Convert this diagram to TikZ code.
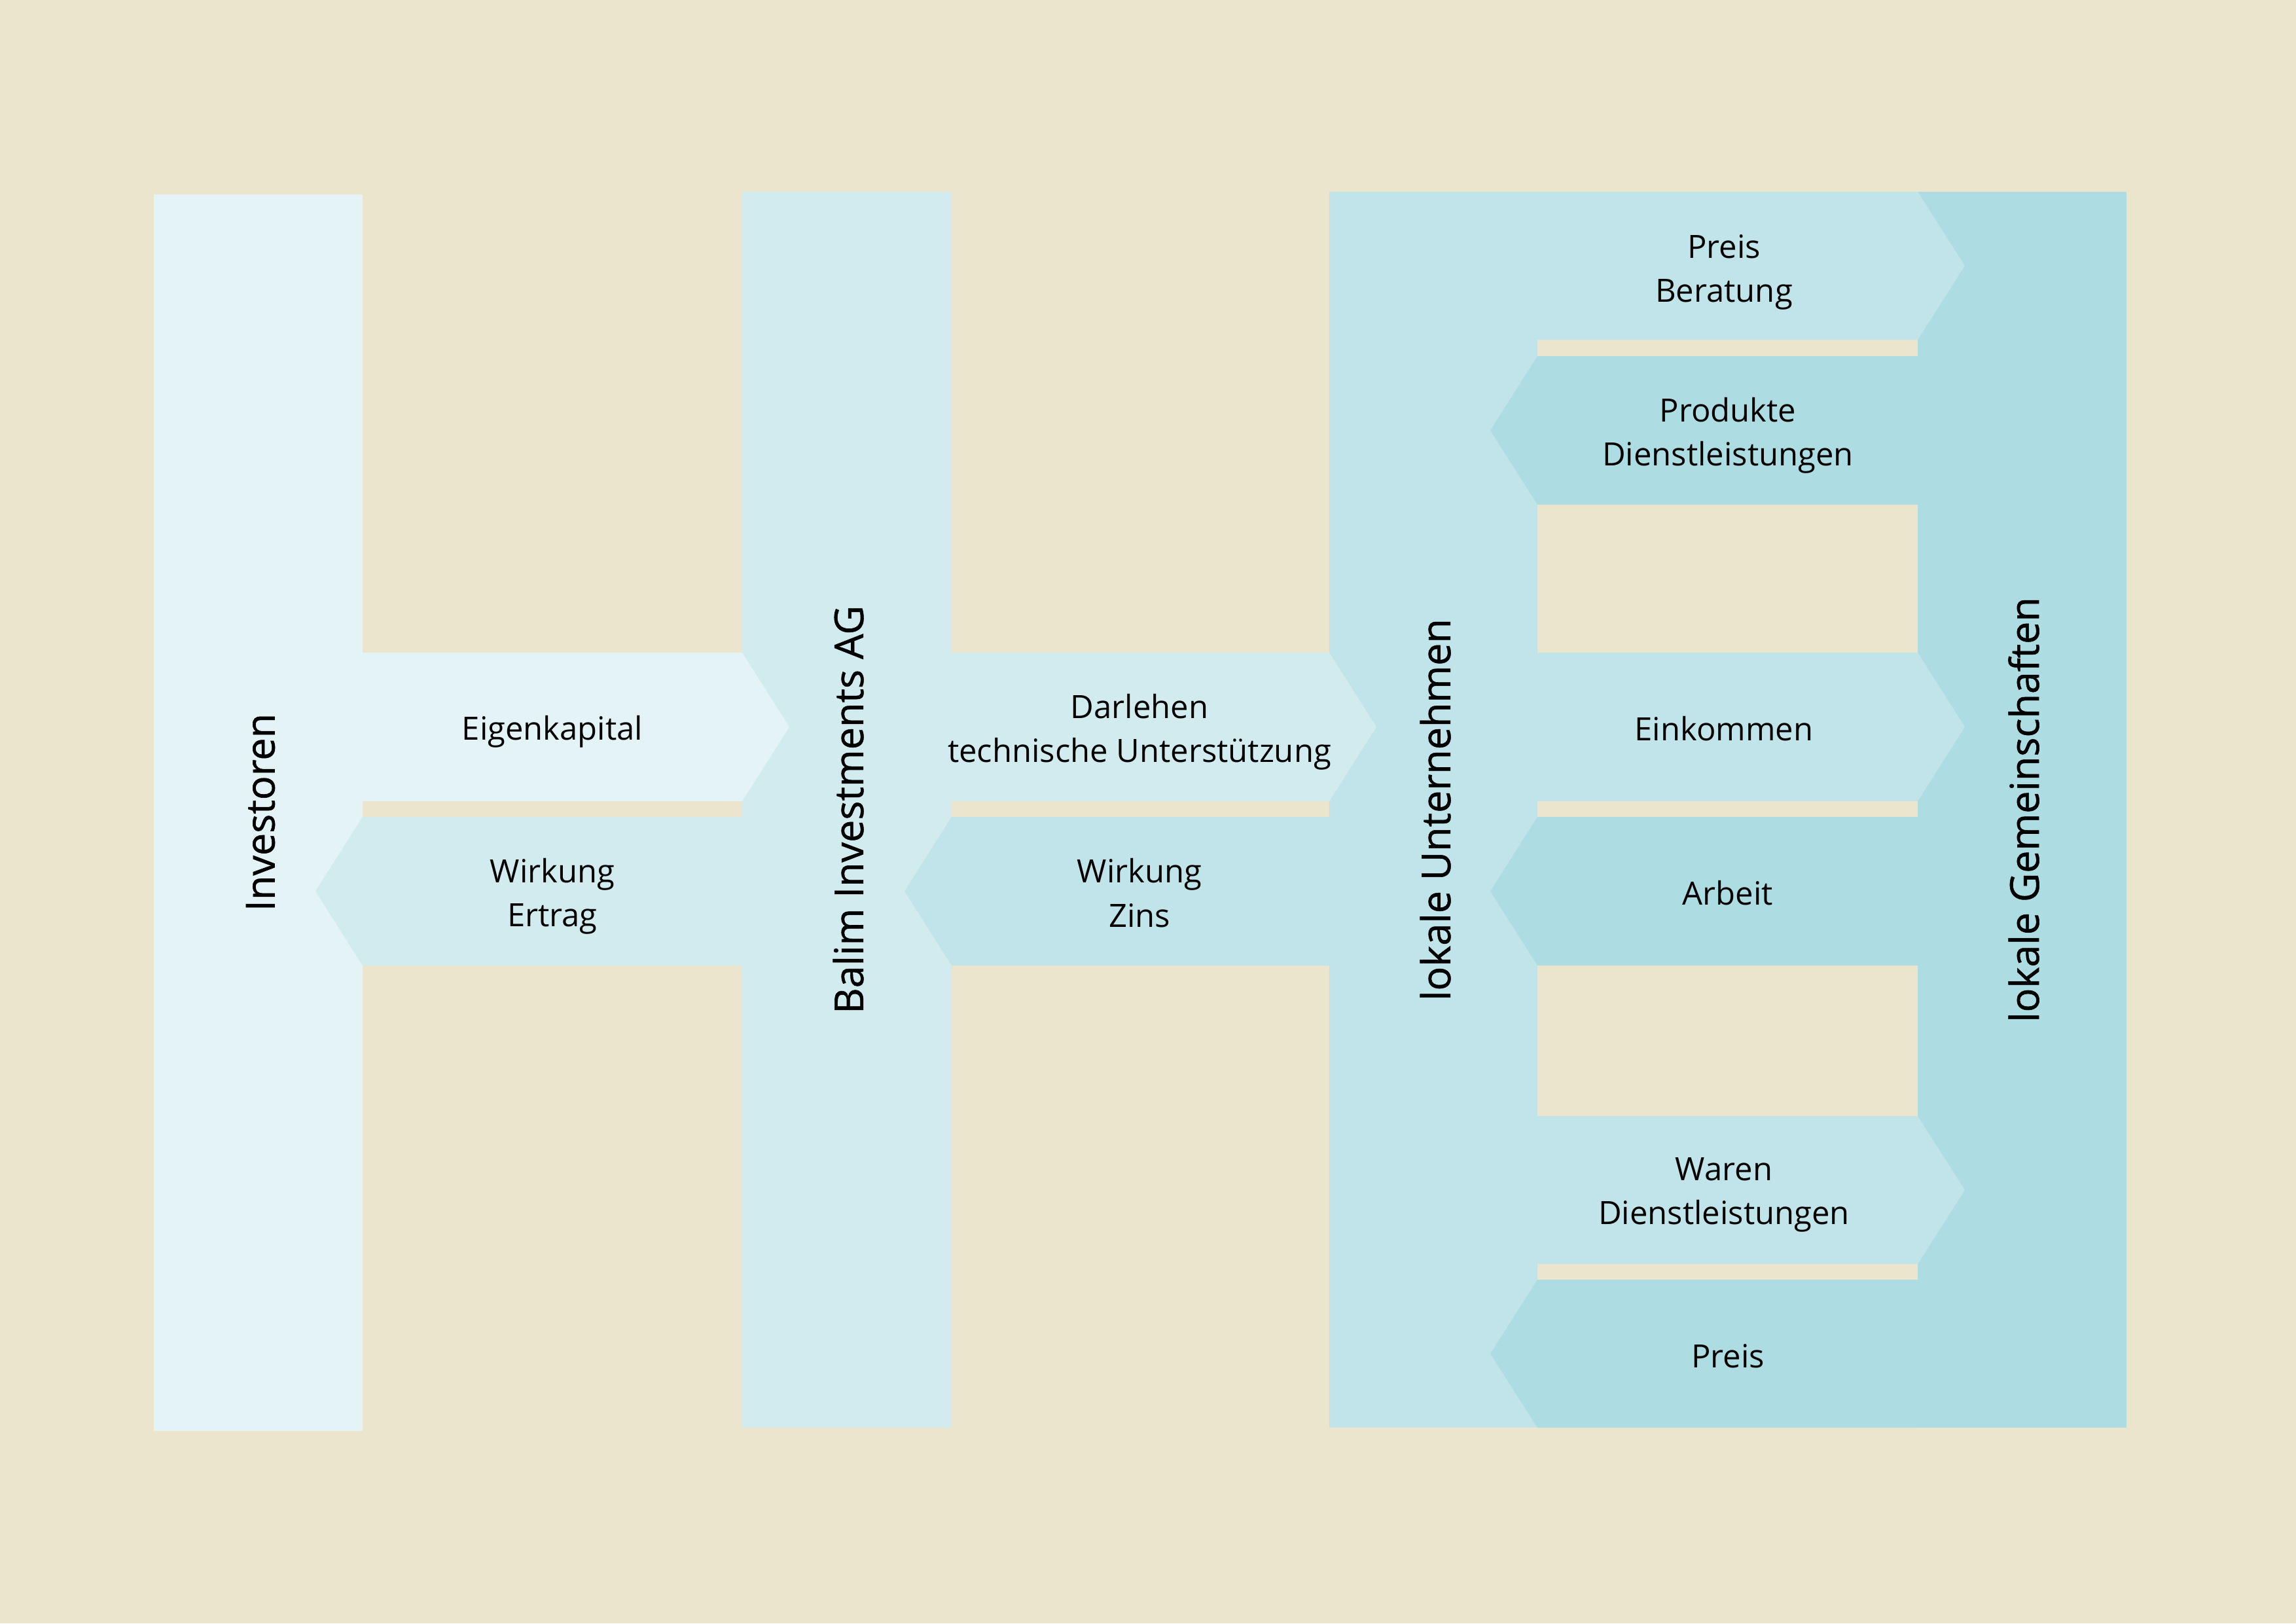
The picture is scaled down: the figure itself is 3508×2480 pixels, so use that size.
\documentclass[tikz,border=0pt]{standalone}
\usepackage{fontspec}
\setmainfont{Open Sans}
\newfontface\barfont{Open Sans}[FakeBold=0.9]
\definecolor{bg}{HTML}{EBE5CE}
\definecolor{cInv}{HTML}{E3F3F6}
\definecolor{cBal}{HTML}{D2EBEF}
\definecolor{cUnt}{HTML}{C0E4E9}
\definecolor{cGem}{HTML}{ADDCE3}
\tikzset{
  lbl/.style={font=\fontsize{11.8}{16.2}\selectfont, align=center, text=black, inner sep=0pt},
  barlbl/.style={font=\barfont\fontsize{14.7}{17}\selectfont, rotate=90, text=black, inner sep=0pt},
}
\newcommand{\RArr}[5]{\fill[#5] (#1,#3) -- (#2,#3) -- ({#2+72},{(#3+#4)/2}) -- (#2,#4) -- (#1,#4) -- cycle;}
\newcommand{\LArr}[5]{\fill[#5] (#2,#3) -- (#1,#3) -- ({#1-72},{(#3+#4)/2}) -- (#1,#4) -- (#2,#4) -- cycle;}
\begin{document}
\begin{tikzpicture}[x=0.0084664cm,y=-0.0084664cm]
\fill[bg] (0,0) rectangle (3508,2480);
\useasboundingbox (0,0) rectangle (3508,2480);
% bars
\fill[cInv] (235,297) rectangle (554,2186);
\fill[cBal] (1134,293) rectangle (1454,2181);
\fill[cUnt] (2031,293) rectangle (2349,2181);
\fill[cGem] (2930,293) rectangle (3249,2181);
% arrows
\RArr{554}{1134}{997}{1224}{cInv}
\LArr{554}{1134}{1248}{1475}{cBal}
\RArr{1454}{2031}{997}{1224}{cBal}
\LArr{1454}{2031}{1248}{1475}{cUnt}
\RArr{2349}{2930}{293}{519}{cUnt}
\LArr{2349}{2930}{544}{771}{cGem}
\RArr{2349}{2930}{997}{1224}{cUnt}
\LArr{2349}{2930}{1248}{1475}{cGem}
\RArr{2349}{2930}{1705}{1931}{cUnt}
\LArr{2349}{2930}{1955}{2181}{cGem}
% bar labels
\node[barlbl] (inv) at (398,1241) {Investoren};
\node[barlbl] (bal) at (1296,1237) {Balim Investments AG};
\node[barlbl] (unt) at (2193,1237) {lokale Unternehmen};
\node[barlbl] (gem) at (3092,1237) {lokale Gemeinschaften};
% arrow labels
\node[lbl] (eig) at (844,1118) {Eigenkapital};
\node[lbl] (wer) at (844,1369) {Wirkung\\Ertrag};
\node[lbl] (dar) at (1741,1118) {Darlehen\\technische Unterstützung};
\node[lbl] (wzi) at (1741,1364) {Wirkung\\Zins};
\node[lbl] (pb) at (2634,416) {Preis\\Beratung};
\node[lbl] (pd) at (2640,665) {Produkte\\Dienstleistungen};
\node[lbl] (ein) at (2634,1113) {Einkommen};
\node[lbl] (arb) at (2640,1364) {Arbeit};
\node[lbl] (wd) at (2634,1825) {Waren\\Dienstleistungen};
\node[lbl] (pr) at (2640,2072) {Preis};
\end{tikzpicture}
\end{document}
